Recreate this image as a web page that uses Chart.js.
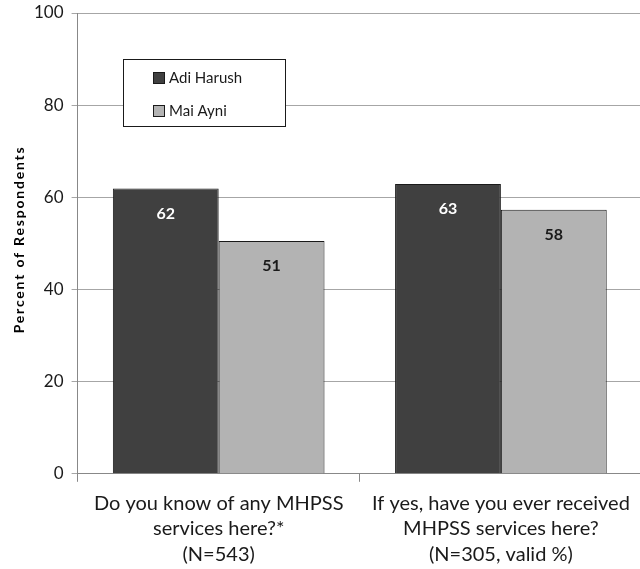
<!DOCTYPE html>
<html>
<head>
<meta charset="utf-8">
<script src="https://cdn.jsdelivr.net/npm/chart.js@4.4.1/dist/chart.umd.min.js"></script>
<style>
    html, body { margin: 0; padding: 0; background: #fff; overflow: hidden; }
    #wrap { width: 642px; height: 569px; }
</style>
</head>
<body>
<div id="wrap"><canvas id="surveyChart"></canvas></div>
<script>
    const categories = [
        ['Do you know of any MHPSS', 'services here?*', '(N=543)'],
        ['If yes, have you ever received', 'MHPSS services here?', '(N=305, valid %)']
    ];
    const seriesNames = ['Adi Harush', 'Mai Ayni'];
    const adiHarush = [61.9, 62.9];
    const maiAyni = [50.5, 57.3];
    const adiLabels = ['62', '63'];
    const maiLabels = ['51', '58'];
    const yTicks = [0, 20, 40, 60, 80, 100];
    const yTitle = 'Percent of Respondents';

    const FONT = 'Lato, "Open Sans", sans-serif';

    // value labels inside the top of each bar
    const barLabels = {
        id: 'barLabels',
        afterDatasetsDraw(chart) {
            const { ctx } = chart;
            const texts = [adiLabels, maiLabels];
            const colors = ['#ffffff', '#1a1a1a'];
            ctx.save();
            ctx.font = 'bold 16px ' + FONT;
            ctx.textAlign = 'center';
            ctx.textBaseline = 'middle';
            chart.data.datasets.forEach((ds, i) => {
                chart.getDatasetMeta(i).data.forEach((bar, j) => {
                    ctx.fillStyle = colors[i];
                    ctx.fillText(texts[i][j], bar.x, bar.y + 25);
                });
            });
            ctx.restore();
        }
    };

    // spaced-out rotated y title
    const sideTitle = {
        id: 'sideTitle',
        afterDraw(chart) {
            const { ctx, chartArea } = chart;
            ctx.save();
            ctx.translate(19, (chartArea.top + chartArea.bottom) / 2 - 4);
            ctx.rotate(-Math.PI / 2);
            ctx.font = 'bold 14px ' + FONT;
            ctx.letterSpacing = '1.8px';
            ctx.fillStyle = '#000000';
            ctx.textAlign = 'center';
            ctx.textBaseline = 'middle';
            ctx.fillText(yTitle, 0, 0);
            ctx.restore();
        }
    };

    // boxed legend sitting inside the plot area
    const boxLegend = {
        id: 'boxLegend',
        afterDraw(chart) {
            const { ctx } = chart;
            const x = 123, y = 59, w = 162, h = 67;
            ctx.save();
            ctx.fillStyle = '#ffffff';
            ctx.fillRect(x, y, w, h);
            ctx.strokeStyle = '#1a1a1a';
            ctx.lineWidth = 1;
            ctx.strokeRect(x + 0.5, y + 0.5, w, h);
            ctx.font = '15px ' + FONT;
            ctx.textBaseline = 'middle';
            chart.data.datasets.forEach((ds, i) => {
                const cy = y + 18 + i * 33;
                ctx.fillStyle = ds.backgroundColor;
                ctx.fillRect(x + 30, cy - 5, 11, 11);
                ctx.strokeStyle = '#1a1a1a';
                ctx.strokeRect(x + 30.5, cy - 4.5, 11, 11);
                ctx.fillStyle = '#1a1a1a';
                ctx.fillText(ds.label, x + 46, cy + 1);
            });
            ctx.restore();
        }
    };

    new Chart(document.getElementById('surveyChart'), {
        type: 'bar',
        data: {
            labels: categories,
            datasets: [{
                label: seriesNames[0],
                data: adiHarush,
                backgroundColor: '#404040',
                borderColor: '#1a1a1a',
                borderWidth: 1,
                categoryPercentage: 0.75,
                barPercentage: 1
            }, {
                label: seriesNames[1],
                data: maiAyni,
                backgroundColor: '#b3b3b3',
                borderColor: '#1a1a1a',
                borderWidth: 1,
                categoryPercentage: 0.75,
                barPercentage: 1
            }]
        },
        options: {
            responsive: true,
            maintainAspectRatio: false,
            animation: false,
            layout: {
                padding: { top: 13, right: 0, bottom: -7, left: 26 }
            },
            plugins: {
                legend: { display: false },
                tooltip: { enabled: false }
            },
            scales: {
                x: {
                    grid: {
                        offset: true,
                        drawOnChartArea: false,
                        drawTicks: true,
                        tickLength: 8,
                        color: '#888888'
                    },
                    border: { color: '#888888' },
                    ticks: {
                        color: '#1a1a1a',
                        font: { family: FONT, size: 20, lineHeight: 1.27 },
                        padding: 9,
                        maxRotation: 0
                    }
                },
                y: {
                    min: 0,
                    max: 100,
                    afterBuildTicks(axis) {
                        axis.ticks = yTicks.map(v => ({ value: v }));
                    },
                    afterFit(axis) {
                        // let the top tick label poke above the plot like the original
                        axis.paddingTop = 0;
                    },
                    grid: {
                        color: '#a6a6a6',
                        tickLength: 6
                    },
                    border: { color: '#888888' },
                    ticks: {
                        color: '#1a1a1a',
                        font: { family: FONT, size: 17 },
                        padding: 8
                    }
                }
            }
        },
        plugins: [barLabels, sideTitle, boxLegend]
    });
</script>
</body>
</html>
